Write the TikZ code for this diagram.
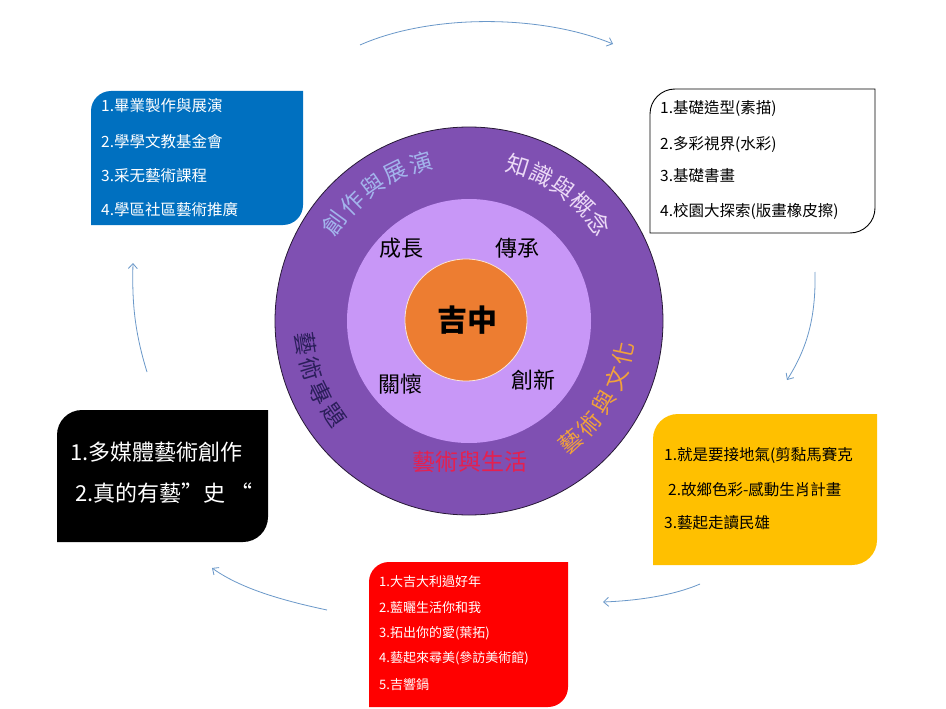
\documentclass[tikz,border=0pt]{standalone}
\usepackage{fontspec}
\setmainfont{Noto Sans CJK TC}
\usetikzlibrary{arrows.meta,calc}
\definecolor{outerpurple}{HTML}{7F50B2}
\definecolor{innerpurple}{HTML}{C897F7}
\definecolor{coreorange}{HTML}{ED7D31}
\definecolor{boxblue}{HTML}{0070C0}
\definecolor{boxyellow}{HTML}{FFC000}
\definecolor{boxred}{HTML}{FF0000}
\definecolor{arrowblue}{HTML}{6A98C9}
\definecolor{ringblue}{HTML}{A3B4EC}
\definecolor{ringpink}{HTML}{EBD9F6}
\definecolor{ringgold}{HTML}{F2A23A}
\definecolor{ringnavy}{HTML}{2B1E5A}
\definecolor{ringred}{HTML}{E5204F}
\tikzset{
  boxline/.style={anchor=west,inner sep=0pt},
  cyclearrow/.style={draw=arrowblue,line width=0.8pt,-{Straight Barb[length=5pt,width=9pt]}},
  ringchar/.style={inner sep=0pt,font=\fontsize{23}{25}\selectfont},
  corechar/.style={inner sep=0pt,font=\fontsize{22}{24}\selectfont},
}
\begin{document}
\begin{tikzpicture}[x=1pt,y=1pt]
\useasboundingbox (0,0) rectangle (946,-709);
\fill[white] (0,0) rectangle (946,-709);

% circles
\coordinate (C) at (469,-321);
\fill[outerpurple,draw=black!70!outerpurple,line width=0.8pt] (C) circle[radius=194];
\fill[innerpurple] (C) circle[radius=122];
\fill[coreorange,draw=white!80!coreorange,line width=0.8pt] (466,-320) circle[radius=61];

\node[inner sep=0pt,font=\bfseries\fontsize{30}{32}\selectfont] (core) at (467,-320) {吉中};
\node[corechar] (grow) at (401,-248) {成長};
\node[corechar] (inherit) at (517,-248) {傳承};
\node[corechar] (care) at (400,-384) {關懷};
\node[corechar] (innov) at (533,-380) {創新};

% ring texts
\foreach \ch [count=\i] in {創,作,與,展,演}{
  \pgfmathsetmacro\ang{144-(\i-1)*9.25}
  \node[ringchar,text=ringblue,rotate=\ang-90] (ra\i) at ($(C)+(\ang:166)$) {\ch};
}
\foreach \ch [count=\i] in {知,識,與,概,念}{
  \pgfmathsetmacro\ang{72.6-(\i-1)*8.9}
  \node[ringchar,text=ringpink,rotate=\ang-90] (rb\i) at ($(C)+(\ang:163)$) {\ch};
}
\foreach \ch [count=\i] in {藝,術,與,文,化}{
  \pgfmathsetmacro\ang{-50+(\i-1)*9.5}
  \node[ringchar,text=ringgold,rotate=\ang+90] (rc\i) at ($(C)+(\ang:158)$) {\ch};
}
\foreach \ch [count=\i] in {藝,術,專,題}{
  \pgfmathsetmacro\ang{188+(\i-1)*9}
  \node[ringchar,text=ringnavy,rotate=\ang+90] (rd\i) at ($(C)+(\ang:165)$) {\ch};
}
\node[ringchar,text=ringred] (life) at (470,-462) {藝術與生活};

% blue box
\fill[boxblue] (91,-225) -- (91,-111) arc[start angle=180,end angle=90,radius=20] -- (303,-91) -- (303,-205) arc[start angle=0,end angle=-90,radius=20] -- cycle;
\begin{scope}[every node/.style={boxline,text=white,font=\fontsize{15.5}{17}\selectfont}]
\node (b1) at (101,-106) {1.畢業製作與展演};
\node (b2) at (101,-142) {2.學學文教基金會};
\node (b3) at (101,-176) {3.采无藝術課程};
\node (b4) at (101,-210) {4.學區社區藝術推廣};
\end{scope}

% white box
\draw[black,line width=0.9pt,fill=white] (650,-233) -- (650,-114) arc[start angle=180,end angle=90,radius=25] -- (875,-89) -- (875,-208) arc[start angle=0,end angle=-90,radius=25] -- cycle;
\begin{scope}[every node/.style={boxline,text=black,font=\fontsize{15.5}{17}\selectfont}]
\node (w1) at (660,-109) {1.基礎造型(素描)};
\node (w2) at (660,-144) {2.多彩視界(水彩)};
\node (w3) at (660,-176) {3.基礎書畫};
\node (w4) at (660,-211) {4.校園大探索(版畫橡皮擦)};
\end{scope}

% yellow box
\fill[boxyellow] (653,-565) -- (653,-439) arc[start angle=180,end angle=90,radius=25] -- (877,-414) -- (877,-540) arc[start angle=0,end angle=-90,radius=25] -- cycle;
\begin{scope}[every node/.style={boxline,text=black,font=\fontsize{15.5}{17}\selectfont}]
\node (y1) at (664,-455) {1.就是要接地氣(剪黏馬賽克};
\node (y2) at (668,-490) {2.故鄉色彩-感動生肖計畫};
\node (y3) at (664,-523) {3.藝起走讀民雄};
\end{scope}

% red box
\fill[boxred] (369,-707) -- (369,-582) arc[start angle=180,end angle=90,radius=20] -- (568,-562) -- (568,-687) arc[start angle=0,end angle=-90,radius=20] -- cycle;
\begin{scope}[every node/.style={boxline,text=white,font=\fontsize{13}{15}\selectfont}]
\node (r1) at (379,-582) {1.大吉大利過好年};
\node (r2) at (379,-608) {2.藍曬生活你和我};
\node (r3) at (379,-633) {3.拓出你的愛(葉拓)};
\node (r4) at (379,-658) {4.藝起來尋美(參訪美術館)};
\node (r5) at (379,-685) {5.吉響鍋};
\end{scope}

% black box
\fill[black] (57,-542) -- (57,-435) arc[start angle=180,end angle=90,radius=25] -- (268,-410) -- (268,-517) arc[start angle=0,end angle=-90,radius=25] -- cycle;
\begin{scope}[every node/.style={boxline,text=white,font=\fontsize{22}{24}\selectfont}]
\node (k1) at (70,-452) {1.多媒體藝術創作};
\node (k2) at (75,-493) {2.真的有藝”史 “};
\end{scope}

% cycle arrows
\coordinate (a1s) at (360,-45);  \coordinate (a1e) at (613,-44);
\coordinate (a2s) at (815,-272); \coordinate (a2e) at (787,-380);
\coordinate (a3s) at (700,-584); \coordinate (a3e) at (603,-602);
\coordinate (a4s) at (327,-610); \coordinate (a4e) at (212,-568);
\coordinate (a5s) at (147,-372); \coordinate (a5e) at (133,-263);
\draw[cyclearrow] (a1s) .. controls (430,-14) and (540,-14) .. (a1e);
\draw[cyclearrow] (a2s) .. controls (816,-320) and (806,-350) .. (a2e);
\draw[cyclearrow] (a3s) .. controls (670,-597) and (630,-601) .. (a3e);
\draw[cyclearrow] (a4s) .. controls (280,-600) and (240,-588) .. (a4e);
\draw[cyclearrow] (a5s) .. controls (134,-330) and (132,-300) .. (a5e);
\end{tikzpicture}
\end{document}
